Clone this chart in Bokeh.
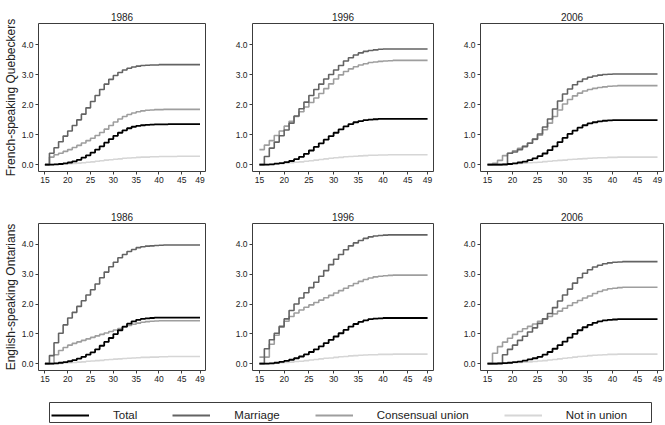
from bokeh.plotting import figure
from bokeh.layouts import column, row
from bokeh.models import Range1d, FixedTicker, NumeralTickFormatter, Title, Legend, LegendItem
from bokeh.embed import file_html
from bokeh.resources import INLINE

# ---------------- data ----------------
ages = [15, 16, 17, 18, 19, 20, 21, 22, 23, 24, 25, 26, 27, 28, 29, 30, 31, 32,
        33, 34, 35, 36, 37, 38, 39, 40, 41, 42, 43, 44, 45, 46, 47, 48, 49]
x_ticks = [15, 20, 25, 30, 35, 40, 45, 49]
y_ticks = [0, 1, 2, 3, 4]
years = ["1986", "1996", "2006"]
groups = ["French-speaking Quebeckers", "English-speaking Ontarians"]
series_names = ["Total", "Marriage", "Consensual union", "Not in union"]

# French-speaking Quebeckers
fq1986_total = [0.00, 0.00, 0.01, 0.02, 0.04, 0.07, 0.11, 0.16, 0.23, 0.31, 0.40, 0.50, 0.61, 0.73, 0.85, 0.96, 1.06, 1.14,
                1.21, 1.26, 1.29, 1.31, 1.32, 1.33, 1.34, 1.34, 1.34, 1.35, 1.35, 1.35, 1.35, 1.35, 1.35, 1.35, 1.35]
fq1986_marriage = [0.00, 0.38, 0.56, 0.76, 0.95, 1.12, 1.30, 1.49, 1.68, 1.89, 2.10, 2.30, 2.50, 2.68, 2.84, 2.97, 3.07, 3.15,
                   3.21, 3.25, 3.28, 3.30, 3.31, 3.32, 3.32, 3.33, 3.33, 3.33, 3.33, 3.33, 3.33, 3.33, 3.33, 3.33, 3.33]
fq1986_consensual = [0.00, 0.25, 0.33, 0.38, 0.44, 0.50, 0.57, 0.64, 0.72, 0.80, 0.88, 0.97, 1.07, 1.18, 1.30, 1.42, 1.52, 1.60,
                     1.67, 1.72, 1.76, 1.79, 1.81, 1.82, 1.83, 1.83, 1.84, 1.84, 1.84, 1.84, 1.84, 1.84, 1.84, 1.84, 1.84]
fq1986_notunion = [0.00, 0.00, 0.01, 0.01, 0.02, 0.03, 0.04, 0.05, 0.06, 0.08, 0.09, 0.11, 0.13, 0.15, 0.16, 0.18, 0.19, 0.21,
                   0.22, 0.23, 0.24, 0.25, 0.25, 0.26, 0.26, 0.27, 0.27, 0.27, 0.27, 0.28, 0.28, 0.28, 0.28, 0.28, 0.28]

fq1996_total = [0.00, 0.00, 0.01, 0.03, 0.05, 0.08, 0.12, 0.18, 0.26, 0.36, 0.47, 0.59, 0.71, 0.83, 0.95, 1.06, 1.17, 1.27,
                1.35, 1.41, 1.45, 1.48, 1.50, 1.51, 1.52, 1.52, 1.52, 1.52, 1.52, 1.52, 1.52, 1.52, 1.52, 1.52, 1.52]
fq1996_marriage = [0.00, 0.27, 0.55, 0.75, 0.96, 1.15, 1.38, 1.62, 1.86, 2.08, 2.30, 2.50, 2.68, 2.85, 3.00, 3.15, 3.30, 3.45,
                   3.56, 3.65, 3.72, 3.77, 3.80, 3.82, 3.84, 3.85, 3.85, 3.85, 3.85, 3.85, 3.85, 3.85, 3.85, 3.85, 3.85]
fq1996_consensual = [0.50, 0.65, 0.80, 0.97, 1.12, 1.28, 1.44, 1.60, 1.76, 1.92, 2.07, 2.22, 2.37, 2.53, 2.69, 2.85, 2.99, 3.10,
                     3.19, 3.26, 3.32, 3.36, 3.40, 3.42, 3.44, 3.45, 3.46, 3.47, 3.47, 3.47, 3.47, 3.47, 3.47, 3.47, 3.47]
fq1996_notunion = [0.00, 0.00, 0.01, 0.02, 0.03, 0.05, 0.06, 0.08, 0.09, 0.11, 0.13, 0.15, 0.17, 0.19, 0.21, 0.23, 0.24, 0.26,
                   0.27, 0.28, 0.29, 0.30, 0.31, 0.31, 0.32, 0.32, 0.33, 0.33, 0.33, 0.33, 0.33, 0.33, 0.33, 0.33, 0.33]

fq2006_total = [0.00, 0.00, 0.00, 0.01, 0.02, 0.04, 0.07, 0.10, 0.15, 0.21, 0.28, 0.37, 0.48, 0.61, 0.75, 0.89, 1.02, 1.13,
                1.23, 1.31, 1.37, 1.41, 1.44, 1.46, 1.47, 1.48, 1.48, 1.48, 1.48, 1.48, 1.48, 1.48, 1.48, 1.48, 1.48]
fq2006_marriage = [0.00, 0.00, 0.00, 0.00, 0.38, 0.42, 0.50, 0.60, 0.71, 0.85, 1.02, 1.25, 1.52, 1.85, 2.12, 2.35, 2.52, 2.66,
                   2.77, 2.85, 2.91, 2.95, 2.98, 3.00, 3.01, 3.02, 3.02, 3.02, 3.02, 3.02, 3.02, 3.02, 3.02, 3.02, 3.02]
fq2006_consensual = [0.00, 0.04, 0.14, 0.30, 0.38, 0.46, 0.54, 0.62, 0.72, 0.84, 0.98, 1.16, 1.38, 1.60, 1.82, 2.02, 2.17, 2.29,
                     2.38, 2.45, 2.50, 2.54, 2.57, 2.59, 2.61, 2.62, 2.63, 2.63, 2.63, 2.63, 2.63, 2.63, 2.63, 2.63, 2.63]
fq2006_notunion = [0.00, 0.00, 0.00, 0.01, 0.02, 0.03, 0.04, 0.05, 0.06, 0.07, 0.08, 0.10, 0.11, 0.13, 0.14, 0.15, 0.17, 0.18,
                   0.19, 0.20, 0.21, 0.22, 0.23, 0.23, 0.24, 0.24, 0.25, 0.25, 0.25, 0.25, 0.25, 0.25, 0.25, 0.25, 0.25]

# English-speaking Ontarians
eo1986_total = [0.00, 0.00, 0.01, 0.03, 0.05, 0.08, 0.12, 0.17, 0.23, 0.30, 0.38, 0.48, 0.60, 0.73, 0.86, 0.99, 1.12, 1.24,
                1.34, 1.42, 1.47, 1.50, 1.52, 1.53, 1.54, 1.54, 1.54, 1.54, 1.54, 1.54, 1.54, 1.54, 1.54, 1.54, 1.54]
eo1986_marriage = [0.00, 0.27, 0.70, 1.02, 1.30, 1.53, 1.72, 1.92, 2.11, 2.30, 2.48, 2.67, 2.88, 3.07, 3.25, 3.40, 3.55, 3.66,
                   3.76, 3.83, 3.89, 3.92, 3.94, 3.95, 3.96, 3.97, 3.98, 3.98, 3.98, 3.98, 3.98, 3.98, 3.98, 3.98, 3.98]
eo1986_consensual = [0.00, 0.00, 0.30, 0.44, 0.54, 0.62, 0.68, 0.73, 0.78, 0.83, 0.88, 0.93, 0.98, 1.03, 1.08, 1.13, 1.18, 1.23,
                     1.28, 1.32, 1.36, 1.39, 1.41, 1.42, 1.43, 1.44, 1.44, 1.44, 1.44, 1.44, 1.44, 1.44, 1.44, 1.44, 1.44]
eo1986_notunion = [0.00, 0.00, 0.01, 0.01, 0.02, 0.03, 0.04, 0.05, 0.06, 0.08, 0.09, 0.10, 0.11, 0.13, 0.14, 0.15, 0.16, 0.17,
                   0.18, 0.19, 0.20, 0.21, 0.21, 0.22, 0.22, 0.23, 0.23, 0.24, 0.24, 0.24, 0.24, 0.24, 0.24, 0.24, 0.24]

eo1996_total = [0.00, 0.00, 0.01, 0.03, 0.06, 0.09, 0.13, 0.18, 0.24, 0.31, 0.39, 0.48, 0.58, 0.69, 0.80, 0.91, 1.02, 1.13,
                1.24, 1.33, 1.40, 1.45, 1.49, 1.51, 1.52, 1.53, 1.53, 1.53, 1.53, 1.53, 1.53, 1.53, 1.53, 1.53, 1.53]
eo1996_marriage = [0.00, 0.50, 0.80, 1.02, 1.25, 1.50, 1.78, 2.00, 2.20, 2.38, 2.55, 2.73, 2.93, 3.12, 3.32, 3.50, 3.66, 3.82,
                   3.95, 4.05, 4.13, 4.20, 4.25, 4.28, 4.30, 4.31, 4.32, 4.32, 4.32, 4.32, 4.32, 4.32, 4.32, 4.32, 4.32]
eo1996_consensual = [0.22, 0.22, 0.65, 0.95, 1.22, 1.42, 1.58, 1.70, 1.80, 1.89, 1.97, 2.05, 2.13, 2.21, 2.29, 2.37, 2.45, 2.53,
                     2.61, 2.69, 2.76, 2.82, 2.87, 2.91, 2.93, 2.95, 2.96, 2.97, 2.97, 2.97, 2.97, 2.97, 2.97, 2.97, 2.97]
eo1996_notunion = [0.00, 0.00, 0.01, 0.02, 0.03, 0.04, 0.05, 0.07, 0.08, 0.10, 0.12, 0.14, 0.16, 0.18, 0.19, 0.21, 0.23, 0.24,
                   0.26, 0.27, 0.28, 0.29, 0.30, 0.30, 0.31, 0.31, 0.31, 0.32, 0.32, 0.32, 0.32, 0.32, 0.32, 0.32, 0.32]

eo2006_total = [0.00, 0.00, 0.01, 0.02, 0.03, 0.05, 0.07, 0.10, 0.14, 0.18, 0.23, 0.30, 0.39, 0.50, 0.62, 0.74, 0.87, 1.00,
                1.12, 1.22, 1.30, 1.37, 1.42, 1.45, 1.47, 1.48, 1.49, 1.49, 1.49, 1.49, 1.49, 1.49, 1.49, 1.49, 1.49]
eo2006_marriage = [0.00, 0.00, 0.00, 0.30, 0.48, 0.62, 0.78, 0.92, 1.06, 1.20, 1.35, 1.50, 1.68, 1.88, 2.10, 2.30, 2.50, 2.70,
                   2.88, 3.03, 3.15, 3.24, 3.30, 3.35, 3.38, 3.40, 3.41, 3.42, 3.42, 3.42, 3.42, 3.42, 3.42, 3.42, 3.42]
eo2006_consensual = [0.00, 0.35, 0.57, 0.72, 0.85, 0.98, 1.08, 1.17, 1.25, 1.33, 1.42, 1.50, 1.58, 1.67, 1.76, 1.86, 1.95, 2.04,
                     2.12, 2.20, 2.27, 2.35, 2.42, 2.47, 2.51, 2.53, 2.55, 2.56, 2.56, 2.56, 2.56, 2.56, 2.56, 2.56, 2.56]
eo2006_notunion = [0.00, 0.00, 0.01, 0.01, 0.02, 0.03, 0.04, 0.05, 0.06, 0.07, 0.09, 0.10, 0.12, 0.14, 0.16, 0.18, 0.20, 0.22,
                   0.24, 0.25, 0.27, 0.28, 0.29, 0.30, 0.31, 0.31, 0.32, 0.32, 0.32, 0.32, 0.32, 0.32, 0.32, 0.32, 0.32]

panel_data = [
    [(fq1986_total, fq1986_marriage, fq1986_consensual, fq1986_notunion),
     (fq1996_total, fq1996_marriage, fq1996_consensual, fq1996_notunion),
     (fq2006_total, fq2006_marriage, fq2006_consensual, fq2006_notunion)],
    [(eo1986_total, eo1986_marriage, eo1986_consensual, eo1986_notunion),
     (eo1996_total, eo1996_marriage, eo1996_consensual, eo1996_notunion),
     (eo2006_total, eo2006_marriage, eo2006_consensual, eo2006_notunion)],
]

# ---------------- style ----------------
FONT = "Liberation Sans"
COLORS = ["#000000", "#636363", "#9e9e9e", "#d6d6d6"]
WIDTHS = [1.8, 1.6, 1.6, 1.6]
FRAME = "#3c3c3c"

# per-column sizing: (width, min_border_left, min_border_right)
COLS = [(222, 38, 17), (228, 30, 17), (214, 30, 1)]
# per-row sizing: (height, min_border_top, min_border_bottom)
ROWS = [(196, 23, 25), (201, 27, 27)]


def make_panel(r, c):
    width, mbl, mbr = COLS[c]
    height, mbt, mbb = ROWS[r]
    p = figure(width=width, height=height, output_backend="svg", toolbar_location=None,
               x_range=Range1d(13.6, 50.2), y_range=Range1d(-0.23, 4.7),
               min_border_left=mbl, min_border_right=mbr,
               min_border_top=mbt, min_border_bottom=mbb,
               title=years[c])
    p.title.text_font = FONT
    p.title.text_font_size = "10px"
    p.title.text_font_style = "normal"
    p.title.text_color = "#222222"
    p.title.align = "center"
    p.title.standoff = 5
    p.xgrid.visible = False
    p.ygrid.visible = False
    p.outline_line_color = FRAME
    p.outline_line_width = 1
    p.background_fill_color = "white"
    p.border_fill_color = "white"

    for ax in (p.xaxis[0], p.yaxis[0]):
        ax.axis_line_color = None
        ax.major_tick_line_color = FRAME
        ax.major_tick_out = 3
        ax.major_tick_in = 0
        ax.minor_tick_line_color = None
        ax.major_label_text_font = FONT
        ax.major_label_text_font_size = "8.5px"
        ax.major_label_text_color = "#222222"
        ax.major_label_standoff = 2
    p.xaxis[0].ticker = FixedTicker(ticks=x_ticks)
    p.yaxis[0].ticker = FixedTicker(ticks=y_ticks)
    p.yaxis[0].formatter = NumeralTickFormatter(format="0.0")

    if c == 0:
        p.add_layout(Title(text=groups[r], align="center", text_font=FONT,
                           text_font_size="12px", text_font_style="normal",
                           text_color="#222222", standoff=2), "left")

    series = panel_data[r][c]
    for k in (3, 2, 1, 0):
        p.step(ages, series[k], mode="after", line_color=COLORS[k], line_width=WIDTHS[k])
    return p


rows = []
for r in range(2):
    rows.append(row(*[make_panel(r, c) for c in range(3)], spacing=0))

# ---------------- legend ----------------
# the legend strip's frame outline is the legend box
leg = figure(width=664, height=27, output_backend="svg", toolbar_location=None,
             x_range=Range1d(0, 1), y_range=Range1d(0, 1),
             x_axis_type=None, y_axis_type=None,
             min_border_left=49, min_border_right=13, min_border_top=5, min_border_bottom=2)
leg.outline_line_color = FRAME
leg.outline_line_width = 1
leg.xgrid.visible = False
leg.ygrid.visible = False
items = []
legend_series = panel_data[0][0]
for k, name in enumerate(series_names):
    # proxy renderers: real data, outside this legend strip's visible range
    rr = leg.line(ages, legend_series[k], line_color=COLORS[k], line_width=WIDTHS[k] + 0.3)
    items.append(LegendItem(label=name, renderers=[rr]))
legend = Legend(items=items, orientation="horizontal", location=(2, 1),
                glyph_width=38, glyph_height=12, label_standoff=24, spacing=35,
                padding=4, margin=0, label_height=12,
                label_text_font=FONT, label_text_font_size="11.5px", label_text_color="#222222",
                border_line_color=None, background_fill_alpha=0)
leg.add_layout(legend, "center")

layout = column(rows[0], rows[1], leg, spacing=0)

open("out.html", "w").write(file_html(layout, INLINE))
